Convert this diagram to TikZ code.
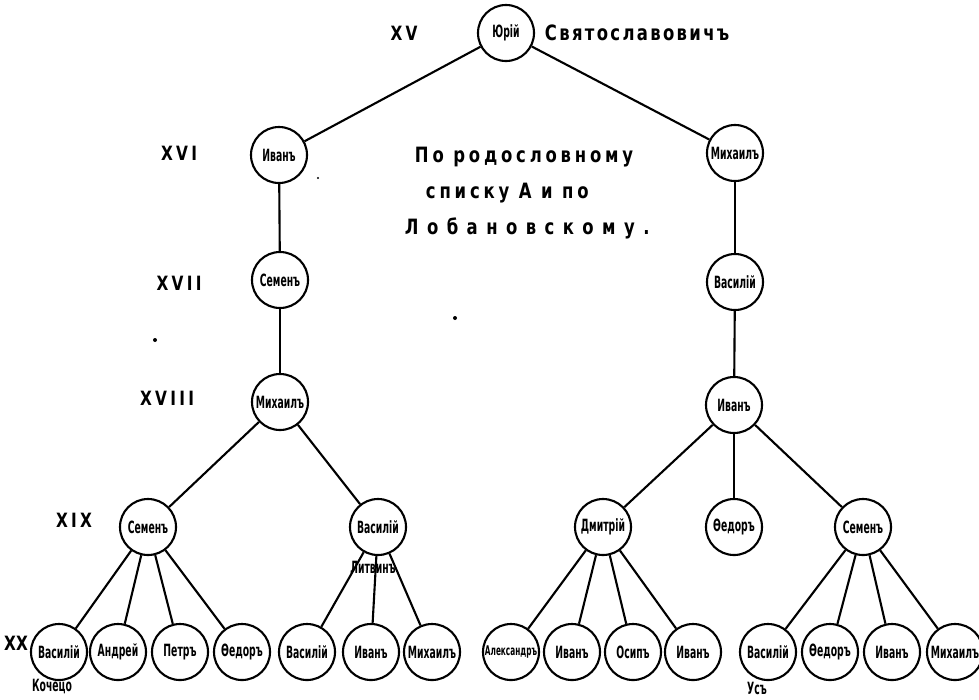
\documentclass[tikz,border=0pt]{standalone}
\usepackage{fontspec}
\setmainfont{DejaVu Sans}[FakeStretch=0.78]
\newfontfamily\namefont{DejaVu Sans}[FakeStretch=0.55]
\begin{document}
\begin{tikzpicture}[x=0.025cm,y=-0.025cm,
    person/.style={circle,draw,line width=1.5pt,minimum size=1.4cm,inner sep=0pt,
      font=\namefont\bfseries\fontsize{12}{13}\selectfont},
    gen/.style={font=\bfseries\fontsize{14}{16}\selectfont},
    note/.style={font=\namefont\bfseries\fontsize{12}{13}\selectfont},
    title/.style={font=\bfseries\fontsize{15}{18}\selectfont,anchor=west}]
  \useasboundingbox[fill=white] (0,0) rectangle (979,699);
  % generations
  \draw
    (404,33) node[gen] (g15){X\,V}
    (179,153) node[gen] (g16){X\,V\,I}
    (179,283) node[gen] (g17){X\,V\,I\,I}
    (167,398) node[gen] (g18){X\,V\,I\,I\,I}
    (74,520) node[gen] (g19){X\,I\,X}
    (16,643) node[gen] (g20){XX};
  % persons
  \draw
    (506,33) node[person] (j){Юрій}
    (279,155) node[person] (i1){Иванъ}
    (735,153) node[person] (m1){Михаилъ}
    (280,280) node[person] (s1){Семенъ}
    (735,282) node[person] (v1){Василій}
    (280,402) node[person] (m2){Михаилъ}
    (734,405) node[person] (i2){Иванъ}
    (148,527) node[person] (s2){Семенъ}
    (378,527) node[person] (v2){Василій}
    (603,527) node[person] (d){Дмитрій}
    (734,527) node[person] (f1){Ѳедоръ}
    (863,527) node[person] (s3){Семенъ};
  \draw
    (59,652) node[person] (a1){Василій}
    (118,652) node[person] (a2){Андрей}
    (180,652) node[person] (a3){Петръ}
    (242,652) node[person] (a4){Ѳедоръ}
    (307,652) node[person] (b1){Василій}
    (371,652) node[person] (b2){Иванъ}
    (432,652) node[person] (b3){Михаилъ}
    (511,652) node[person,font=\namefont\bfseries\fontsize{9.5}{10}\selectfont] (c1){Александръ}
    (572,652) node[person] (c2){Иванъ}
    (633,652) node[person] (c3){Осипъ}
    (693,652) node[person] (c4){Иванъ}
    (768,652) node[person] (e1){Василій}
    (830,652) node[person] (e2){Ѳедоръ}
    (892,652) node[person] (e3){Иванъ}
    (955,652) node[person] (e4){Михаилъ};
  % surnames and notes
  \node[title,font=\bfseries\fontsize{15}{17}\selectfont] (sv) at (540,33)
    {\addfontfeature{LetterSpace=11}Святославовичъ};
  \node[note] (lit) at (373,567) {Литвинъ};
  \node[note] (koch) at (52,687) {Кочецо};
  \node[note] (us) at (757,688) {Усъ};
  \node[title] (t1) at (410,157) {\addfontfeature{LetterSpace=18}По родословному};
  \node[title] (t2) at (421,193) {\addfontfeature{LetterSpace=18}списку А и по};
  \node[title] (t3) at (400,228) {\addfontfeature{LetterSpace=40}Лобановскому.};
  % specks
  \fill (155,340) circle (2) (455,318) circle (2) (318,178) circle (1.2);
  \begin{scope}[line width=1.5pt]
    \draw (j) to (i1);
    \draw (j) to (m1);
    \draw (i1) to (s1);
    \draw (s1) to (m2);
    \draw (m1) to (v1);
    \draw (v1) to (i2);
    \draw (m2) to (s2);
    \draw (m2) to (v2);
    \draw (i2) to (d);
    \draw (i2) to (f1);
    \draw (i2) to (s3);
    \draw (s2) to (a1);
    \draw (s2) to (a2);
    \draw (s2) to (a3);
    \draw (s2) to (a4);
    \draw (v2) to (b1);
    \draw (v2) to (b2);
    \draw (v2) to (b3);
    \draw (d) to (c1);
    \draw (d) to (c2);
    \draw (d) to (c3);
    \draw (d) to (c4);
    \draw (s3) to (e1);
    \draw (s3) to (e2);
    \draw (s3) to (e3);
    \draw (s3) to (e4);
  \end{scope}
\end{tikzpicture}
\end{document}
